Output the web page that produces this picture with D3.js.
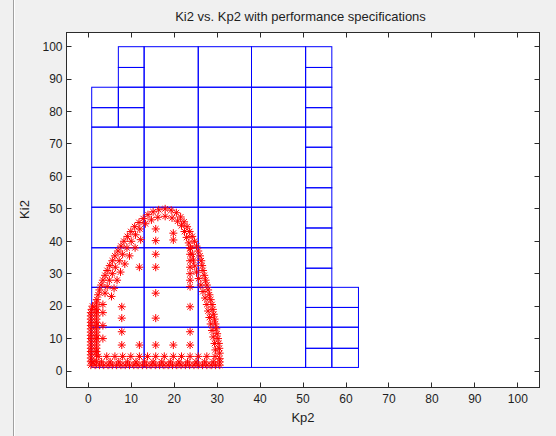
<!DOCTYPE html>
<html>
<head>
<meta charset="utf-8">
<script src="https://cdn.jsdelivr.net/npm/d3@7"></script>
<style>
  html, body { margin: 0; padding: 0; background: #f0f0f0; }
  svg { display: block; }
  text { font-family: "Liberation Sans", Arial, Helvetica, sans-serif; fill: #1e1e1e; }
</style>
</head>
<body>
<svg id="chart" width="556" height="436"></svg>
<script>
// ---- chart text ----
const chartTitle = "Ki2 vs. Kp2 with performance specifications";
const xLabel = "Kp2";
const yLabel = "Ki2";
const xTicks = [0, 10, 20, 30, 40, 50, 60, 70, 80, 90, 100];
const yTicks = [0, 10, 20, 30, 40, 50, 60, 70, 80, 90, 100];

// ---- specification grid: cell edges in Kp2 and Ki2 ----
const kp2Edges = [0.8, 7.0, 13.0, 25.6, 38.0, 50.6, 56.7, 62.9];
const ki2Edges = [1.1, 7.0, 13.5, 19.6, 25.8, 31.7, 38.0, 44.1, 50.5,
                  56.5, 62.8, 69.0, 75.2, 81.2, 87.5, 93.6, 100.0];
// each cell: [kp2 edge lo, kp2 edge hi, ki2 edge lo, ki2 edge hi] (indices into the edge lists)
const specCells = [
  [1,2,15,16], [1,2,14,15],
  [0,1,13,14], [0,1,12,13], [1,2,13,14], [1,2,12,13],
  [0,2,10,12], [0,2,8,10], [0,2,6,8], [0,2,4,6], [0,2,2,4], [0,2,0,2],
  [2,3,14,16], [2,3,12,14], [2,3,10,12], [2,3,8,10], [2,3,6,8], [2,3,4,6], [2,3,2,4], [2,3,0,2],
  [3,4,14,16], [3,4,12,14], [3,4,10,12], [3,4,8,10], [3,4,6,8], [3,4,4,6], [3,4,2,4], [3,4,0,2],
  [4,5,14,16], [4,5,12,14], [4,5,10,12], [4,5,8,10], [4,5,6,8], [4,5,4,6], [4,5,2,4], [4,5,0,2],
  [5,6,0,1], [5,6,1,2], [5,6,2,3], [5,6,3,4], [5,6,4,5], [5,6,5,6], [5,6,6,7], [5,6,7,8],
  [5,6,8,9], [5,6,9,10], [5,6,10,11], [5,6,11,12], [5,6,12,13], [5,6,13,14], [5,6,14,15], [5,6,15,16],
  [6,7,0,1], [6,7,1,2], [6,7,2,3], [6,7,3,4]
];

// ---- stable (Kp2, Ki2) gain pairs ----
const bottomEdgePoints = [
  [0.6,1.8],[1.6,1.8],[2.6,1.8],[3.6,1.8],[4.6,1.8],[5.6,1.8],[6.6,1.8],[7.6,1.8],[8.6,1.8],[9.6,1.8],
  [10.6,1.8],[11.6,1.8],[12.6,1.8],[13.6,1.8],[14.6,1.8],[15.6,1.8],[16.6,1.8],[17.6,1.8],[18.6,1.8],[19.6,1.8],
  [20.6,1.8],[21.6,1.8],[22.6,1.8],[23.6,1.8],[24.6,1.8],[25.6,1.8],[26.6,1.8],[27.6,1.8],[28.6,1.8],[29.6,1.8],[30.6,1.8],
  [1.1,2.8],[3.1,2.8],[5.1,2.8],[7.1,2.8],[9.1,2.8],[11.1,2.8],[13.1,2.8],[15.1,2.8],[17.1,2.8],[19.1,2.8],
  [21.1,2.8],[23.1,2.8],[25.1,2.8],[27.1,2.8],[29.1,2.8],[30.6,2.8],
  [2.3,4.5],[4.3,4.5],[6.2,4.5],[8.0,4.5],[9.9,4.5],[11.9,4.5],[13.8,4.5],[15.7,4.5],[17.7,4.5],[19.8,4.5],
  [21.7,4.5],[23.7,4.5],[25.6,4.5],[27.6,4.5],[29.5,4.5]
];
const leftEdgePoints = [
  [0.6,3],[0.6,4],[0.6,5],[0.6,6],[0.6,7],[0.6,8],[0.6,9],[0.6,10],[0.6,11],[0.6,12],[0.6,13],[0.6,14],
  [0.6,15],[0.6,16],[0.6,17],[0.6,18],[0.8,19],[1.0,20],
  [1.9,3],[1.9,5],[1.9,6],[1.9,7],[1.9,8],[1.9,9],[1.9,10],[1.9,11],[1.9,12],[1.9,13],[1.9,14],[1.9,15],
  [1.9,16],[1.9,17],[1.9,18],[1.9,19],[1.9,20],[1.9,21],[2.0,22],[2.3,23.5],
  [3.4,10],[3.4,14],[3.4,18],[3.4,20.5]
];
const upperCurvePoints = [
  [2.6,25],[3.0,26.5],[3.4,28],[3.9,29.5],[4.4,31],[5.0,32.5],[5.6,34],[6.2,35.5],[6.9,37],[7.6,38.5],
  [8.3,40],[9.1,41.5],[9.9,43],[10.8,44.5],[11.8,45.8],[12.8,47],[13.9,48.2],[15.1,49.1],[16.4,49.7],
  [17.9,50.0],[19.3,49.6],[20.5,48.8],[21.5,47.5],[22.3,46],[23.0,44.5],[23.6,43],[24.2,41.5],[24.7,40],
  [25.2,38.5],[25.6,37],[26.0,35.5],[26.3,34],[26.5,32.5],[26.7,31],[27.0,29.5],[27.3,28],[27.6,26.5],
  [27.9,25],[28.2,23.5],[28.5,22],[28.8,20.5],[29.0,19],[29.2,17.5],[29.4,16],[29.6,14.5],[29.8,13],
  [30.0,11.5],[30.2,10],[30.4,8.5],[30.5,7],[30.6,5.5],[30.6,3.8],
  // second layer
  [3.9,24],[4.4,26],[4.9,28],[5.6,30],[6.3,32],[7.2,34],[8.0,36],[9.0,38],[10.0,40],[11.0,42],
  [12.0,43.8],[13.3,45.4],[14.7,46.6],[16.2,47.4],[17.9,47.7],[19.5,47.2],[20.8,46.2],[21.7,44.8],
  [22.4,43],[22.9,41.2],[23.4,39.5],[23.8,37.8],[24.2,36],[24.5,34.2],[24.8,32.4],[25.2,30.5],
  [25.7,28.5],[26.2,26.5],[26.7,24.5],[27.2,22.5],[27.6,20.5],[27.9,18.5],[28.2,16.5],[28.5,14.5],
  [28.8,12.5],[29.1,10.5],[29.4,8.5],[29.6,6.5],
  // third layer on the rising side
  [5.4,23],[6.0,25.5],[6.7,28],[7.5,30.5],[8.5,33],[9.6,35.5],[10.9,38],[12.2,40.5],
  [19.8,40.4],[19.8,42.5],[23.7,26],[23.7,28],[23.7,30],[23.7,32],[23.7,34],[23.7,36],[23.7,38]
];
const interiorPoints = [
  [15.7,43.8],[15.7,40.2],[15.7,36.0],[15.7,32.0],[11.9,32.0],[15.7,24.0],[7.8,19.8],[7.8,16.3],
  [15.7,16.3],[7.8,12.1],[7.8,8.0],[11.9,8.0],[15.7,8.0],[19.8,8.0],[23.7,8.0],[23.7,12.1],[23.7,19.8]
];
const gainPoints = [].concat(bottomEdgePoints, leftEdgePoints, upperCurvePoints, interiorPoints);

// ---- layout ----
const svg = d3.select("#chart");
const plot = { left: 66.5, right: 539.5, top: 32.5, bottom: 387.5 };

const x = d3.scaleLinear().domain([-5, 105]).range([66.8, 539.3]);
const y = d3.scaleLinear().domain([0, 100]).range([371, 46.7]);
const crisp = v => Math.floor(v) + 0.5;

// window divider on the left
svg.append("line").attr("x1", 13.5).attr("x2", 13.5).attr("y1", 0).attr("y2", 436)
  .attr("stroke", "#a0a0a0").attr("stroke-width", 1);
svg.append("line").attr("x1", 14.5).attr("x2", 14.5).attr("y1", 0).attr("y2", 436)
  .attr("stroke", "#ffffff").attr("stroke-width", 1);

// axes background
svg.append("rect")
  .attr("x", plot.left).attr("y", plot.top)
  .attr("width", plot.right - plot.left).attr("height", plot.bottom - plot.top)
  .attr("fill", "#ffffff");

// specification cells
svg.append("g").selectAll("rect").data(specCells).join("rect")
  .attr("x", d => x(kp2Edges[d[0]]))
  .attr("y", d => y(ki2Edges[d[3]]))
  .attr("width", d => x(kp2Edges[d[1]]) - x(kp2Edges[d[0]]))
  .attr("height", d => y(ki2Edges[d[2]]) - y(ki2Edges[d[3]]))
  .attr("fill", "none").attr("stroke", "#0000ff").attr("stroke-width", 1);

// asterisk markers
const star = "M-4,0L4,0M0,-4L0,4M-2.8,-2.8L2.8,2.8M-2.8,2.8L2.8,-2.8";
svg.append("g").selectAll("path").data(gainPoints).join("path")
  .attr("d", star)
  .attr("transform", d => `translate(${x(d[0]).toFixed(2)},${y(d[1]).toFixed(2)})`)
  .attr("fill", "none").attr("stroke", "#ff0000").attr("stroke-width", 1);

// axes frame
svg.append("rect")
  .attr("x", plot.left).attr("y", plot.top)
  .attr("width", plot.right - plot.left).attr("height", plot.bottom - plot.top)
  .attr("fill", "none").attr("stroke", "#2b2b2b").attr("stroke-width", 1);

const tickLen = 5;
const axisG = svg.append("g").attr("stroke", "#2b2b2b").attr("stroke-width", 1);
xTicks.forEach(t => {
  const px = crisp(x(t));
  axisG.append("line").attr("x1", px).attr("x2", px).attr("y1", plot.bottom).attr("y2", plot.bottom - tickLen);
  axisG.append("line").attr("x1", px).attr("x2", px).attr("y1", plot.top).attr("y2", plot.top + tickLen);
});
yTicks.forEach(t => {
  const py = crisp(y(t));
  axisG.append("line").attr("x1", plot.left).attr("x2", plot.left + tickLen).attr("y1", py).attr("y2", py);
  axisG.append("line").attr("x1", plot.right).attr("x2", plot.right - tickLen).attr("y1", py).attr("y2", py);
});

// tick labels
svg.append("g").selectAll("text").data(xTicks).join("text")
  .attr("x", d => x(d)).attr("y", 402.5)
  .attr("text-anchor", "middle").attr("font-size", 12)
  .text(d => d);
svg.append("g").selectAll("text").data(yTicks).join("text")
  .attr("x", 62.5).attr("y", d => y(d) + 4.3)
  .attr("text-anchor", "end").attr("font-size", 12)
  .text(d => d);

// title and axis labels
svg.append("text").attr("x", 300.5).attr("y", 20.5)
  .attr("text-anchor", "middle").attr("font-size", 13).text(chartTitle);
svg.append("text").attr("x", 303).attr("y", 422)
  .attr("text-anchor", "middle").attr("font-size", 13).text(xLabel);
svg.append("text")
  .attr("transform", "translate(29,209.5) rotate(-90)")
  .attr("text-anchor", "middle").attr("font-size", 13).text(yLabel);
</script>
</body>
</html>
